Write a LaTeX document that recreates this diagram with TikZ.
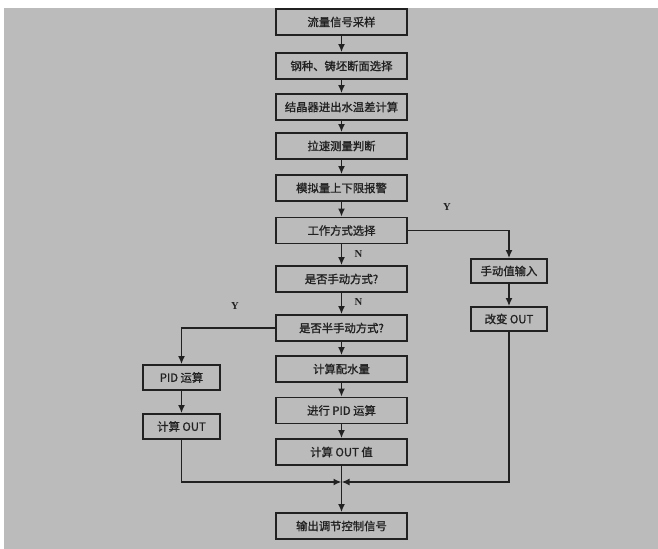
\documentclass[tikz,border=0pt]{standalone}
\usepackage{fontspec}
\setmainfont{Noto Sans CJK SC}[FakeBold=1.2]
\newfontfamily\ynfont{Liberation Serif}
\usetikzlibrary{arrows.meta,positioning}

\newlength{\du}
\setlength{\du}{0.75pt}

\definecolor{scangray}{rgb}{0.735, 0.735, 0.735}
\definecolor{inkcolor}{rgb}{0.130, 0.130, 0.130}

\tikzset{
  flowbox/.style={draw=inkcolor, line width=1.7\du, text=inkcolor,
    minimum width=131\du, minimum height=26\du, inner sep=0pt,
    font=\fontsize{8.5}{10}\selectfont},
  sidebox/.style={flowbox, minimum width=77\du, minimum height=25\du},
  flowline/.style={draw=inkcolor, line width=1.6\du,
    -{Latex[length=6pt,width=5.2pt]}},
  ynlabel/.style={text=inkcolor, font=\ynfont\bfseries\fontsize{8}{9}\selectfont}
}

\begin{document}
\begin{tikzpicture}[x=\du, y=-\du]
\useasboundingbox (0,0) rectangle (658,549);
\fill[scangray] (4,8) rectangle (658,549);

% main column
\node[flowbox] (b1) at (341.5,22) {流量信号采样};
\node[flowbox] (b2) at (341.5,66) {钢种、铸坯断面选择};
\node[flowbox] (b3) at (341.5,107) {结晶器进出水温差计算};
\node[flowbox] (b4) at (341.5,146) {拉速测量判断};
\node[flowbox] (b5) at (341.5,188) {模拟量上下限报警};
\node[flowbox] (b6) at (341.5,230.5) {工作方式选择};
\node[flowbox] (b7) at (341.5,279) {是否手动方式?};
\node[flowbox] (b8) at (341.5,328) {是否半手动方式?};
\node[flowbox] (b9) at (341.5,369) {计算配水量};
\node[flowbox] (b10) at (341.5,410.5) {进行 PID 运算};
\node[flowbox] (b11) at (341.5,452) {计算 OUT 值};
\node[flowbox] (b12) at (341.5,526) {输出调节控制信号};

% side branches
\node[sidebox] (l1) at (181.5,377.5) {PID 运算};
\node[sidebox] (l2) at (181.5,426.5) {计算 OUT};
\node[sidebox, minimum width=76\du, minimum height=24\du] (r1) at (509,271) {手动值输入};
\node[sidebox, minimum width=76\du, minimum height=24\du] (r2) at (509,319) {改变 OUT};

\coordinate (merge) at (341.5,482);

\draw[flowline] (b1) -- (b2);
\draw[flowline] (b2) -- (b3);
\draw[flowline] (b3) -- (b4);
\draw[flowline] (b4) -- (b5);
\draw[flowline] (b5) -- (b6);
\draw[flowline] (b6) -- node[ynlabel, right=8\du, pos=0.45] (n1) {N} (b7);
\draw[flowline] (b7) -- node[ynlabel, right=8\du, pos=0.45] (n2) {N} (b8);
\draw[flowline] (b8) -- (b9);
\draw[flowline] (b9) -- (b10);
\draw[flowline] (b10) -- (b11);
\draw[flowline] (b11) -- (b12);

\draw[flowline] (b6.east) -| (r1.north);
\draw[flowline] (r1) -- (r2);
\draw[flowline] (b8.west) -| (l1.north);
\draw[flowline] (l1) -- (l2);

\draw[flowline] (l2.south) |- (merge);
\draw[flowline] (r2.south) |- (merge);

\node[ynlabel] (y1) at (447,207) {Y};
\node[ynlabel] (y2) at (235,306) {Y};
\end{tikzpicture}
\end{document}
